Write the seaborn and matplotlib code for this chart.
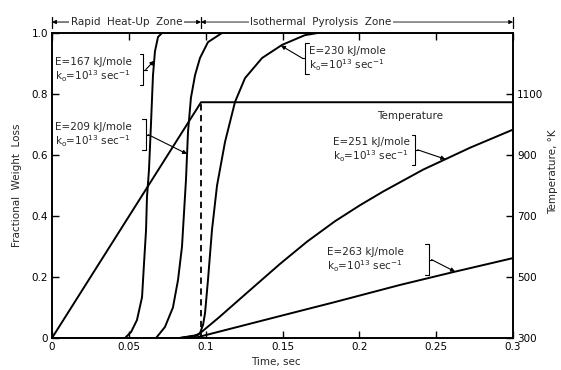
import numpy as np
import pandas as pd
import matplotlib
matplotlib.use("Agg")
import matplotlib.pyplot as plt
import matplotlib.transforms as mtransforms
import seaborn as sns

# Fractional weight loss curves (time in sec) for five activation energies
time_e167 = [0.0, 0.0475, 0.0515, 0.0553, 0.0586, 0.0599, 0.0612, 0.0618, 0.0631, 0.0644, 0.0657, 0.0670, 0.0690, 0.0716, 0.3]
loss_e167 = [0.0, 0.0, 0.02, 0.059, 0.134, 0.246, 0.354, 0.462, 0.55, 0.70, 0.86, 0.94, 0.987, 1.0, 1.0]

time_e209 = [0.0, 0.0677, 0.0735, 0.0787, 0.0820, 0.0846, 0.0859, 0.0872, 0.0885, 0.0904, 0.0931, 0.0963, 0.1015, 0.1106, 0.3]
loss_e209 = [0.0, 0.0, 0.036, 0.10, 0.19, 0.30, 0.41, 0.52, 0.675, 0.787, 0.862, 0.918, 0.970, 1.0, 1.0]

time_e230 = [0.0, 0.0833, 0.0930, 0.0963, 0.0983, 0.0996, 0.1015, 0.1041, 0.1074, 0.1126, 0.1191, 0.1256, 0.1367, 0.1497, 0.1646, 0.1730, 0.3]
loss_e230 = [0.0, 0.0, 0.007, 0.016, 0.043, 0.082, 0.19, 0.354, 0.50, 0.643, 0.774, 0.852, 0.918, 0.961, 0.993, 1.0, 1.0]

time_e251 = [0.0, 0.083, 0.095, 0.1090, 0.1223, 0.1350, 0.1484, 0.1660, 0.1842, 0.2000, 0.2154, 0.2415, 0.2721, 0.2994]
loss_e251 = [0.0, 0.0, 0.01, 0.069, 0.128, 0.184, 0.243, 0.316, 0.383, 0.434, 0.480, 0.552, 0.624, 0.682]

time_e263 = [0.0, 0.083, 0.095, 0.1484, 0.1842, 0.2265, 0.261, 0.300]
loss_e263 = [0.0, 0.0, 0.003, 0.072, 0.118, 0.174, 0.216, 0.262]

# Particle temperature history (deg K)
temp_time = [0.0, 0.097, 0.3]
temp_kelvin = [300, 1073, 1073]

energy_labels = ["167", "209", "230", "251", "263"]

x_ticks = [0, 0.05, 0.1, 0.15, 0.2, 0.25, 0.3]
x_ticklabels = ["0", "0.05", "0.1", "0.15", "0.2", "0.25", "0.3"]
y_ticks = [0, 0.2, 0.4, 0.6, 0.8, 1.0]
y_ticklabels = ["0", "0.2", "0.4", "0.6", "0.8", "1.0"]
t_ticks = [300, 500, 700, 900, 1100]
t_ticklabels = ["300", "500", "700", "900", "1100"]

sns.set_style("ticks")
plt.rcParams["font.family"] = ["DejaVu Sans"]
plt.rcParams["mathtext.fontset"] = "dejavusans"

FS = 7.5
LW = 1.4

fig = plt.figure(figsize=(5.61, 3.70), dpi=100)
ax = fig.add_axes([52 / 561, 1 - 338 / 370, 461 / 561, 305 / 370])

curves = [
    (time_e167, loss_e167),
    (time_e209, loss_e209),
    (time_e230, loss_e230),
    (time_e251, loss_e251),
    (time_e263, loss_e263),
]
for tt, ff in curves:
    df = pd.DataFrame({"t": tt, "f": ff})
    sns.lineplot(data=df, x="t", y="f", ax=ax, color="black", lw=LW,
                 sort=False, estimator=None)

ax.set_xlim(0, 0.3)
ax.set_ylim(0, 1.0)
ax.set_xticks(x_ticks)
ax.set_xticklabels(x_ticklabels)
ax.set_yticks(y_ticks)
ax.set_yticklabels(y_ticklabels)
ax.tick_params(direction="in", length=5, width=1.0, top=True, labelsize=FS,
               pad=3, colors="black")
ax.set_xlabel("Time, sec", fontsize=FS)
ax.set_ylabel("Fractional  Weight  Loss", fontsize=FS)
ax.xaxis.set_label_coords(0.486, -0.062)
ax.yaxis.set_label_coords(-0.066, 0.5)
for s in ax.spines.values():
    s.set_linewidth(1.2)
    s.set_color("black")

# Temperature on the right axis
ax2 = ax.twinx()
tdf = pd.DataFrame({"t": temp_time, "T": temp_kelvin})
sns.lineplot(data=tdf, x="t", y="T", ax=ax2, color="black", lw=LW,
             sort=False, estimator=None)
t_iso = temp_time[1]
T_iso = temp_kelvin[1]
ax2.plot([t_iso, t_iso], [temp_kelvin[0], T_iso], color="black", lw=1.3,
         ls=(0, (3.5, 2.5)))
ax2.set_ylim(300, 1300)
ax2.set_xlim(0, 0.3)
ax2.set_yticks(t_ticks)
ax2.set_yticklabels(t_ticklabels)
ax2.tick_params(direction="in", length=5, width=1.0, labelsize=FS, pad=3,
                colors="black")
ax2.set_ylabel("Temperature, °K", fontsize=FS)
ax2.yaxis.set_label_coords(1.076, 0.544)
ax2.set_xlabel("")
for s in ax2.spines.values():
    s.set_linewidth(1.2)
    s.set_color("black")

# Zone headers above the plot
trans = mtransforms.blended_transform_factory(ax.transData, ax.transAxes)
yz = 1.036
for xb in (0.0, t_iso, 0.3):
    ax.plot([xb, xb], [yz - 0.018, yz + 0.018], color="black", lw=0.9,
            transform=trans, clip_on=False)
ax.annotate("", xy=(0.0, yz), xytext=(t_iso, yz), xycoords=trans,
            textcoords=trans,
            arrowprops=dict(arrowstyle="<|-|>", lw=0.7, color="black",
                            mutation_scale=6, shrinkA=0, shrinkB=0))
ax.annotate("", xy=(t_iso, yz), xytext=(0.3, yz), xycoords=trans,
            textcoords=trans,
            arrowprops=dict(arrowstyle="<|-|>", lw=0.6, color="black",
                            mutation_scale=6, shrinkA=0, shrinkB=0))
ax.text(t_iso / 2, yz, "Rapid  Heat-Up  Zone", transform=trans,
        ha="center", va="center", fontsize=FS,
        bbox=dict(fc="white", ec="none", pad=1.0))
ax.text(0.175, yz, "Isothermal  Pyrolysis  Zone", transform=trans,
        ha="center", va="center", fontsize=FS,
        bbox=dict(fc="white", ec="none", pad=1.0))


def bracket(x, y0, y1, side):
    """Square bracket spanning y0..y1 at time x; side 'right' opens left."""
    d = 0.0025 if side == "right" else -0.0025
    ax.plot([x - d, x, x, x - d], [y1, y1, y0, y0], color="black", lw=0.8,
            clip_on=False)
    ym = (y0 + y1) / 2
    ax.plot([x, x + d * 0.8], [ym, ym], color="black", lw=0.8, clip_on=False)


ko_line = r"k$_\mathrm{o}$=10$^{13}$ sec$^{-1}$"

# (text x, first-line y, bracket x, side, arrow time, curve index)
notes = [
    (0.002, 0.905, 0.0595, "right", 0.0665, 0),
    (0.002, 0.692, 0.0610, "right", 0.0879, 1),
    (0.1670, 0.942, 0.1645, "left", 0.149, 2),
    (0.1830, 0.642, 0.2365, "right", 0.2560, 3),
    (0.1790, 0.282, 0.2455, "right", 0.2623, 4),
]
for (tx, ty, bx, side, at, idx) in notes:
    tt, ff = curves[idx]
    ax.text(tx, ty, f"E={energy_labels[idx]} kJ/mole", fontsize=FS,
            ha="left", va="center")
    ax.text(tx, ty - 0.047, ko_line, fontsize=FS, ha="left", va="center")
    y0, y1 = ty - 0.075, ty + 0.025
    bracket(bx, y0, y1, side)
    ym = (y0 + y1) / 2
    start_x = bx + (0.0015 if side == "right" else -0.0015)
    target = (at, float(np.interp(at, tt, ff)))
    ax.annotate("", xy=target, xytext=(start_x, ym),
                arrowprops=dict(arrowstyle="-|>", lw=0.8, color="black",
                                mutation_scale=6, shrinkA=0, shrinkB=0))

ax2.text(0.2115, T_iso - 28, "Temperature", fontsize=FS, ha="left",
         va="top")

fig.savefig("out.png", dpi=100)
